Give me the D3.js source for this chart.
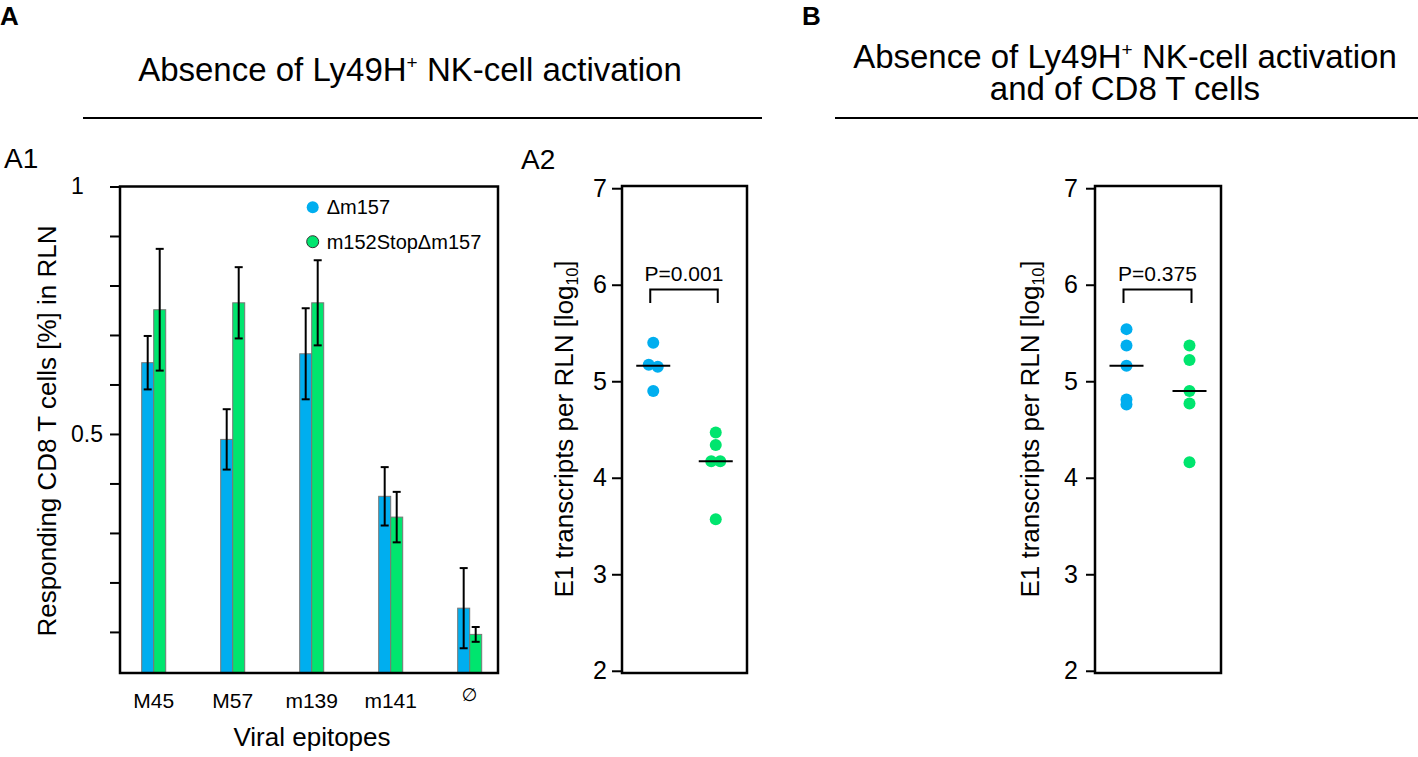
<!DOCTYPE html>
<html lang="en">
<head>
  <meta charset="UTF-8">
  <title>CD8 T-cell responses and E1 transcripts in RLN</title>
  <script src="https://d3js.org/d3.v7.min.js"></script>
  <style>
    body { margin: 0; background: #fff; }
    svg { font-family: "Liberation Sans", Arial, sans-serif; }
  </style>
</head>
<body>
  <svg id="fig" width="1418" height="757"></svg>

  <script>
    // ---- data ----
    const categories = ['M45', 'M57', 'm139', 'm141', '\u2205'];
    const seriesNames = ['\u0394m157', 'm152Stop\u0394m157'];
    const meanDelta = [0.644, 0.489, 0.662, 0.374, 0.148];
    const errDelta  = [0.054, 0.061, 0.092, 0.059, 0.081];
    const meanStop  = [0.751, 0.765, 0.765, 0.332, 0.095];
    const errStop   = [0.123, 0.072, 0.086, 0.051, 0.015];

    const a2Delta = [5.40, 5.17, 5.15, 4.90];
    const a2Stop  = [4.47, 4.34, 4.17, 4.17, 3.57];
    const bDelta  = [5.54, 5.37, 5.16, 4.81, 4.76];
    const bStop   = [5.37, 5.22, 4.90, 4.77, 4.16];
    const pLabels = ['P=0.001', 'P=0.375'];

    const a1Ticks = d3.range(1, 11).map(i => i / 10);
    const logTicks = [2, 3, 4, 5, 6, 7];

    const colors = ['#00aeef', '#00e56e'];
    const svg = d3.select('#fig');

    // ---- headings ----
    svg.append('text').attr('x', 0).attr('y', 25)
      .style('font-size', '26px').style('font-weight', 'bold').text('A');
    svg.append('text').attr('x', 802).attr('y', 25)
      .style('font-size', '26px').style('font-weight', 'bold').text('B');
    svg.append('text').attr('x', 4).attr('y', 168).style('font-size', '28px').text('A1');
    svg.append('text').attr('x', 521).attr('y', 169).style('font-size', '28px').text('A2');

    function titleLine(x, y, withPlus) {
      const t = svg.append('text').attr('x', x).attr('y', y)
        .attr('text-anchor', 'middle').style('font-size', '33px');
      if (withPlus) {
        t.append('tspan').text('Absence of Ly49H');
        t.append('tspan').attr('dy', -12).style('font-size', '19px').text('+');
        t.append('tspan').attr('dy', 12).text(' NK-cell activation');
      }
      return t;
    }
    titleLine(410, 81, true);
    titleLine(1125, 68, true);
    titleLine(1125, 100, false).text('and of CD8 T cells');

    svg.append('line').attr('x1', 83).attr('x2', 762).attr('y1', 118).attr('y2', 118)
      .attr('stroke', '#000').attr('stroke-width', 2);
    svg.append('line').attr('x1', 835).attr('x2', 1418).attr('y1', 118).attr('y2', 118)
      .attr('stroke', '#000').attr('stroke-width', 2);

    // ---- A1 bar chart ----
    const a1 = { left: 120, right: 498, top: 186.5, bottom: 673 };
    const y1 = d3.scaleLinear().domain([0.017, 1]).range([a1.bottom, a1.top]);
    const x0 = d3.scaleBand().domain(categories).range([118, 505.4])
      .paddingInner(0.696).paddingOuter(0.3);
    const x1 = d3.scaleBand().domain(seriesNames).range([0, x0.bandwidth()]);

    const barData = categories.map((c, i) => ({
      cat: c,
      vals: [
        { s: seriesNames[0], m: meanDelta[i], e: errDelta[i], k: 0 },
        { s: seriesNames[1], m: meanStop[i], e: errStop[i], k: 1 }
      ]
    }));

    const groups = svg.append('g').selectAll('g').data(barData).join('g')
      .attr('transform', d => `translate(${x0(d.cat)},0)`);

    groups.selectAll('rect').data(d => d.vals).join('rect')
      .attr('x', d => x1(d.s))
      .attr('y', d => y1(d.m))
      .attr('width', x1.bandwidth())
      .attr('height', d => a1.bottom - y1(d.m))
      .attr('fill', d => colors[d.k])
      .attr('stroke', '#777')
      .attr('stroke-width', 1);

    const err = groups.selectAll('g.err').data(d => d.vals).join('g').attr('class', 'err')
      .attr('stroke', '#000').attr('stroke-width', 2);
    const cxOf = d => x1(d.s) + x1.bandwidth() / 2;
    err.append('line')
      .attr('x1', cxOf).attr('x2', cxOf)
      .attr('y1', d => y1(d.m + d.e)).attr('y2', d => y1(d.m - d.e));
    err.append('line')
      .attr('x1', d => cxOf(d) - 4).attr('x2', d => cxOf(d) + 4)
      .attr('y1', d => y1(d.m + d.e)).attr('y2', d => y1(d.m + d.e));
    err.append('line')
      .attr('x1', d => cxOf(d) - 4).attr('x2', d => cxOf(d) + 4)
      .attr('y1', d => y1(d.m - d.e)).attr('y2', d => y1(d.m - d.e));

    // y axis (labels only at 0.5 and 1, left aligned like the original)
    const yAx1 = svg.append('g').attr('transform', `translate(${a1.left},0)`)
      .call(d3.axisLeft(y1).tickValues(a1Ticks).tickSize(10)
        .tickFormat(d => Math.abs(d - 0.5) < 1e-9 ? '0.5' : Math.abs(d - 1) < 1e-9 ? '1' : ''));
    yAx1.select('.domain').remove();
    yAx1.selectAll('.tick line').attr('stroke', '#000').attr('stroke-width', 2);
    yAx1.selectAll('.tick text').attr('text-anchor', 'start').attr('x', -49)
      .attr('fill', '#000').style('font-size', '23px').style('font-family', null);

    const xAx1 = svg.append('g').attr('transform', `translate(0,${a1.bottom})`)
      .call(d3.axisBottom(x0).tickSize(0).tickPadding(20));
    xAx1.select('.domain').remove();
    xAx1.selectAll('.tick text').attr('fill', '#000').style('font-size', '21px').style('font-family', null);
    xAx1.selectAll('.tick text').filter(d => d === '\u2205')
      .style('font-size', '18px').style('font-family', '"DejaVu Sans", sans-serif').attr('y', 15);

    svg.append('rect').attr('x', a1.left).attr('y', a1.top)
      .attr('width', a1.right - a1.left).attr('height', a1.bottom - a1.top)
      .attr('fill', 'none').attr('stroke', '#000').attr('stroke-width', 2.5);

    svg.append('text').attr('transform', 'translate(56,431) rotate(-90)')
      .attr('text-anchor', 'middle').style('font-size', '26px')
      .text('Responding CD8 T cells [%] in RLN');
    svg.append('text').attr('x', 312).attr('y', 746)
      .attr('text-anchor', 'middle').style('font-size', '26px').text('Viral epitopes');

    // legend
    const leg = svg.append('g').selectAll('g').data(seriesNames).join('g')
      .attr('transform', (d, i) => `translate(312.7,${207.3 + i * 34.4})`);
    leg.append('circle').attr('r', 6).attr('fill', (d, i) => colors[i])
      .attr('stroke', (d, i) => i === 1 ? '#333' : 'none').attr('stroke-width', 1);
    leg.append('text').attr('x', 14).attr('y', 7).style('font-size', '20px').text(d => d);

    // ---- dot plots (A2 and B) ----
    function dotPanel(left, right, groupsVals, pLabel, tickSize, tickPad, labelX) {
      const top = 186, bottom = 673;
      const y = d3.scaleLinear().domain([1.977, 7.023]).range([bottom, top]);
      const x = d3.scalePoint().domain(seriesNames).range([left, right]).padding(0.5);
      const g = svg.append('g');

      groupsVals.forEach((vals, k) => {
        const sorted = vals.slice().sort((a, b) => b - a);
        const off = sorted.map(() => 0);
        for (let i = 0; i < sorted.length - 1; i++) {
          if (off[i] === 0 && Math.abs(sorted[i] - sorted[i + 1]) < 0.03) {
            off[i] = -4.5; off[i + 1] = 4.5;
          }
        }
        const cx = x(seriesNames[k]);
        g.append('g').selectAll('circle').data(sorted).join('circle')
          .attr('cx', (d, i) => cx + off[i])
          .attr('cy', d => y(d))
          .attr('r', 6)
          .attr('fill', colors[k]);
        const med = d3.median(vals);
        g.append('line').attr('x1', cx - 17).attr('x2', cx + 17)
          .attr('y1', y(med)).attr('y2', y(med))
          .attr('stroke', '#000').attr('stroke-width', 2);
      });

      // significance bracket
      const bx1 = x(seriesNames[0]) - 3, bx2 = x(seriesNames[1]) + 2;
      const by = y(5.95), byLeg = y(5.81);
      g.append('path')
        .attr('d', `M${bx1},${byLeg}V${by}H${bx2}V${byLeg}`)
        .attr('fill', 'none').attr('stroke', '#000').attr('stroke-width', 2);
      g.append('text').attr('x', (bx1 + bx2) / 2).attr('y', 281)
        .attr('text-anchor', 'middle').style('font-size', '21px').text(pLabel);

      const ax = svg.append('g').attr('transform', `translate(${left},0)`)
        .call(d3.axisLeft(y).tickValues(logTicks).tickSize(tickSize).tickPadding(tickPad)
          .tickFormat(d3.format('d')));
      ax.select('.domain').remove();
      ax.selectAll('.tick line').attr('stroke', '#000').attr('stroke-width', 2);
      ax.selectAll('.tick text').attr('fill', '#000').style('font-size', '25px').style('font-family', null);

      svg.append('rect').attr('x', left).attr('y', top)
        .attr('width', right - left).attr('height', bottom - top)
        .attr('fill', 'none').attr('stroke', '#000').attr('stroke-width', 2.5);

      const lab = svg.append('text').attr('transform', `translate(${labelX},429) rotate(-90)`)
        .attr('text-anchor', 'middle').style('font-size', '26px');
      lab.append('tspan').text('E1 transcripts per RLN [log');
      lab.append('tspan').attr('dy', 5).style('font-size', '16px').text('10');
      lab.append('tspan').attr('dy', -5).text(']');
    }

    dotPanel(622, 747, [a2Delta, a2Stop], pLabels[0], 10, 5, 573);
    dotPanel(1095, 1221, [bDelta, bStop], pLabels[1], 9, 8, 1039);
  </script>
</body>
</html>
